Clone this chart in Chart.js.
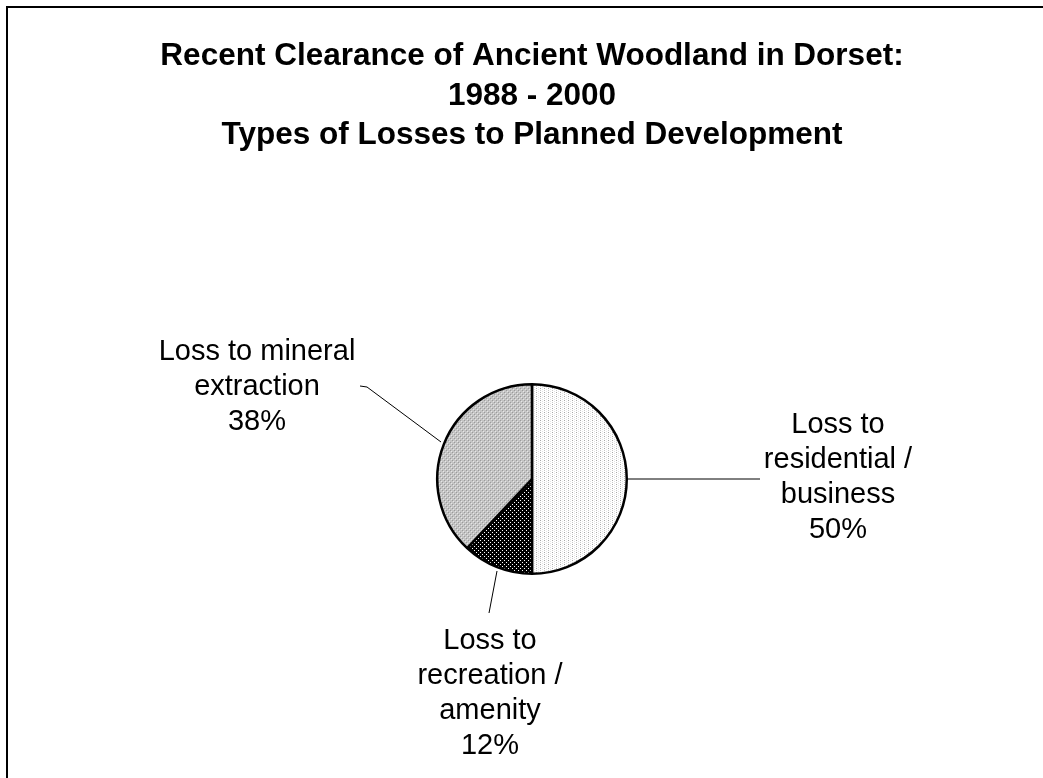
<!DOCTYPE html>
<html>
<head>
<meta charset="utf-8">
<script src="https://cdn.jsdelivr.net/npm/chart.js@4/dist/chart.umd.min.js"></script>
<style>
html,body{margin:0;padding:0;background:#fff;}
canvas{display:block;}
</style>
</head>
<body>
<canvas id="c" width="1043" height="778"></canvas>
<script>
// ---- data ----
const categories = ["Loss to residential / business", "Loss to recreation / amenity", "Loss to mineral extraction"];
const labelLines = [["Loss to", "residential /", "business"], ["Loss to", "recreation /", "amenity"], ["Loss to mineral", "extraction"]];
const values = [50, 12, 38];
const titleLines = ["Recent Clearance of Ancient Woodland in Dorset:", "1988 - 2000", "Types of Losses to Planned Development"];

// ---- patterns ----
function makePattern(bg, dots, size) {
  const c = document.createElement('canvas');
  c.width = size; c.height = size;
  const x = c.getContext('2d');
  x.fillStyle = bg; x.fillRect(0, 0, size, size);
  dots.forEach(d => { x.fillStyle = d[2]; x.fillRect(d[0], d[1], 1, 1); });
  return x.createPattern(c, 'repeat');
}
const ctx0 = document.getElementById('c').getContext('2d');
const patResidential = makePattern('#ffffff', [[0,0,'#a8a8a8'],[0,2,'#c8c8c8'],[2,1,'#e4e4e4'],[2,3,'#e4e4e4']], 4);
const patRecreation = makePattern('#000000', [[0,0,'#ffffff'],[2,2,'#ffffff']], 4);
const patMineral = makePattern('#c4c4c4', [[0,0,'#9a9a9a'],[2,2,'#9a9a9a'],[1,1,'#e6e6e6'],[3,3,'#e6e6e6']], 4);

// label layout (centre x, first line y) and leader lines
const labelPos = [
  {x: 838, y: 425, lead: [[628, 479], [760, 479]]},
  {x: 490, y: 641, lead: [[497, 571], [489, 613]]},
  {x: 257, y: 352, lead: [[441, 442], [367, 387], [360, 386]]}
];
const lineH = 35;

const decor = {
  id: 'decor',
  beforeDraw(chart) {
    const c = chart.ctx;
    c.save();
    c.fillStyle = '#fff';
    c.fillRect(0, 0, chart.width, chart.height);
    c.strokeStyle = '#000';
    c.lineWidth = 2;
    c.beginPath();
    c.moveTo(7, chart.height + 5);
    c.lineTo(7, 7);
    c.lineTo(chart.width + 5, 7);
    c.stroke();
    c.restore();
  },
  afterDraw(chart) {
    const c = chart.ctx;
    c.save();
    c.fillStyle = '#000';
    c.textAlign = 'center';
    c.textBaseline = 'alphabetic';
    c.font = 'bold 31.5px "Liberation Sans", Arial, sans-serif';
    titleLines.forEach((t, i) => c.fillText(t, 532, 65 + i * 39.5));
    c.textBaseline = 'middle';
    c.font = '29px "Liberation Sans", Arial, sans-serif';
    const meta = chart.getDatasetMeta(0);
    const total = values.reduce((a, b) => a + b, 0);
    meta.data.forEach((arc, i) => {
      const p = labelPos[i];
      const lines = labelLines[i].concat([Math.round(values[i] / total * 100) + '%']);
      lines.forEach((l, j) => c.fillText(l, p.x, p.y + j * lineH));
      c.strokeStyle = '#000';
      c.lineWidth = 1;
      c.beginPath();
      p.lead.forEach((pt, k) => k ? c.lineTo(pt[0], pt[1]) : c.moveTo(pt[0], pt[1]));
      c.stroke();
    });
    c.restore();
  }
};

new Chart(document.getElementById('c'), {
  type: 'pie',
  data: {
    labels: categories,
    datasets: [{
      data: values,
      backgroundColor: [patResidential, patRecreation, patMineral],
      borderColor: '#000',
      borderWidth: 2.5,
      borderAlign: 'center'
    }]
  },
  options: {
    responsive: false,
    animation: false,
    layout: {padding: {left: 436, right: 415, top: 383, bottom: 203}},
    plugins: {legend: {display: false}, tooltip: {enabled: false}, title: {display: false}}
  },
  plugins: [decor]
});
</script>
</body>
</html>
